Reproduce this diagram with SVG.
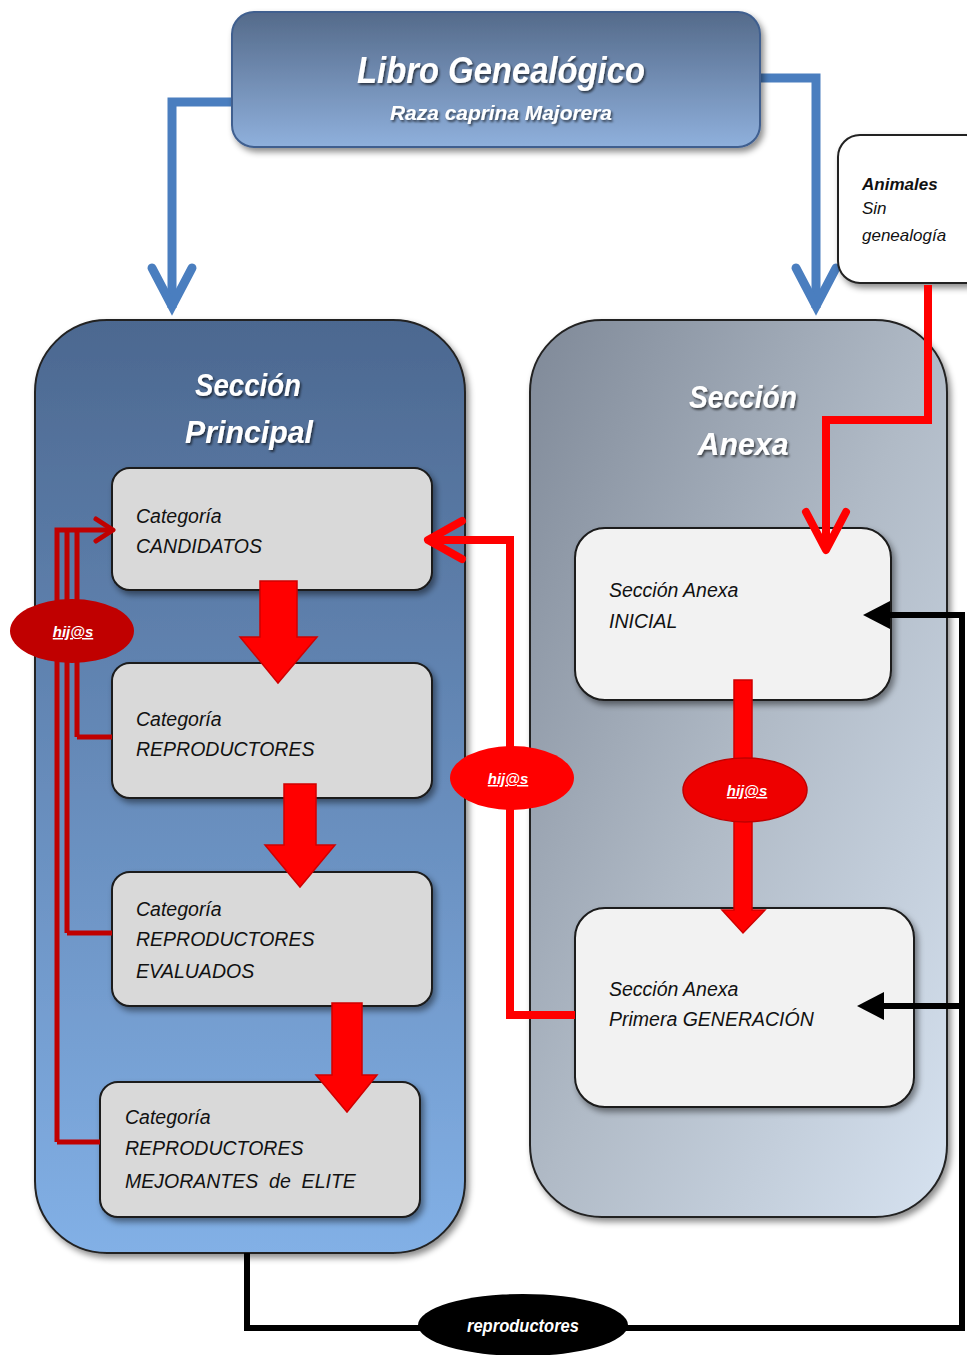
<svg xmlns="http://www.w3.org/2000/svg" width="967" height="1355" viewBox="0 0 967 1355">
<defs>
<linearGradient id="gHead" x1="0" y1="0" x2="0" y2="1">
<stop offset="0" stop-color="#546a8a"/><stop offset="1" stop-color="#8fb0dc"/>
</linearGradient>
<linearGradient id="gPrin" x1="0" y1="0" x2="0" y2="1">
<stop offset="0" stop-color="#4c6890"/><stop offset="1" stop-color="#82b0e6"/>
</linearGradient>
<linearGradient id="gAnex" x1="0" y1="0" x2="1" y2="1">
<stop offset="0" stop-color="#7f8998"/><stop offset="0.5" stop-color="#b0bac6"/><stop offset="1" stop-color="#d6e2f0"/>
</linearGradient>
<filter id="sh" x="-10%" y="-10%" width="125%" height="125%">
<feDropShadow dx="3" dy="4" stdDeviation="3" flood-color="#000" flood-opacity="0.45"/>
</filter>
<filter id="tsh" x="-10%" y="-20%" width="130%" height="150%">
<feDropShadow dx="1.5" dy="2" stdDeviation="1" flood-color="#000" flood-opacity="0.6"/>
</filter>
<style>
.cat{fill:#d9d9d9;stroke:#1a1a1a;stroke-width:2}
.anx{fill:#f2f2f2;stroke:#1a1a1a;stroke-width:2}
.t{font-family:"Liberation Sans",Arial,sans-serif;font-style:italic;fill:#111}
.ct{font-size:19.5px}
.wt{font-family:"Liberation Sans",Arial,sans-serif;font-style:italic;font-weight:bold;fill:#fff}
.blue{fill:none;stroke:#4a7ebf;stroke-width:9;stroke-linejoin:miter}
.red{fill:none;stroke:#ff0000;stroke-width:8}
.dred{fill:none;stroke:#c00000;stroke-width:5}
.blk{fill:none;stroke:#000;stroke-width:6}
.hij{font-family:"Liberation Sans",Arial,sans-serif;font-style:italic;font-weight:bold;font-size:15px;fill:#fff;text-decoration:underline}
.blockarrow{fill:#ff0000;stroke:#d00000;stroke-width:1.5}
</style>
</defs>
<rect width="967" height="1355" fill="#fff"/>

<g id="connectors-blue">
<path class="blue" d="M232,102 H172 V308"/>
<path class="blue" d="M152,268 L172,306 L192,268" stroke-linecap="round"/>
<path class="blue" d="M760,78 H816 V308"/>
<path class="blue" d="M796,268 L816,306 L836,268" stroke-linecap="round"/>
</g>

<g id="libro">
<rect x="232" y="12" width="528" height="135" rx="22" fill="url(#gHead)" stroke="#3f5f8f" stroke-width="2" filter="url(#sh)"/>
<text class="wt" x="501" y="83" text-anchor="middle" font-size="36" textLength="288" lengthAdjust="spacingAndGlyphs" filter="url(#tsh)">Libro Genealógico</text>
<text class="wt" x="501" y="120" text-anchor="middle" font-size="21" textLength="222" lengthAdjust="spacingAndGlyphs" filter="url(#tsh)">Raza caprina Majorera</text>
</g>

<g id="animales">
<rect x="838" y="135" width="150" height="148" rx="22" fill="#fff" stroke="#222" stroke-width="2" filter="url(#sh)"/>
<text class="t" x="862" y="190" font-size="17" font-weight="bold">Animales</text>
<text class="t" x="862" y="214" font-size="17">Sin</text>
<text class="t" x="862" y="241" font-size="17">genealogía</text>
</g>

<g id="seccion-principal">
<rect x="35" y="320" width="430" height="933" rx="72" fill="url(#gPrin)" stroke="#222" stroke-width="2" filter="url(#sh)"/>
<text class="wt" x="248" y="396" text-anchor="middle" font-size="31" textLength="106" lengthAdjust="spacingAndGlyphs" filter="url(#tsh)">Sección</text>
<text class="wt" x="249" y="443" text-anchor="middle" font-size="31" textLength="128" lengthAdjust="spacingAndGlyphs" filter="url(#tsh)">Principal</text>
</g>

<g id="seccion-anexa">
<rect x="530" y="320" width="417" height="897" rx="72" fill="url(#gAnex)" stroke="#222" stroke-width="2" filter="url(#sh)"/>
<text class="wt" x="743" y="408" text-anchor="middle" font-size="31" textLength="108" lengthAdjust="spacingAndGlyphs" filter="url(#tsh)">Sección</text>
<text class="wt" x="743" y="455" text-anchor="middle" font-size="31" textLength="91" lengthAdjust="spacingAndGlyphs" filter="url(#tsh)">Anexa</text>
</g>

<g id="cat-candidatos">
<rect class="cat" x="112" y="468" width="320" height="122" rx="18" filter="url(#sh)"/>
<text class="t ct" x="136" y="523">Categoría</text>
<text class="t ct" x="136" y="553">CANDIDATOS</text>
</g>
<g id="cat-reproductores">
<rect class="cat" x="112" y="663" width="320" height="135" rx="18" filter="url(#sh)"/>
<text class="t ct" x="136" y="726">Categoría</text>
<text class="t ct" x="136" y="756">REPRODUCTORES</text>
</g>
<g id="cat-evaluados">
<rect class="cat" x="112" y="872" width="320" height="134" rx="18" filter="url(#sh)"/>
<text class="t ct" x="136" y="916">Categoría</text>
<text class="t ct" x="136" y="946">REPRODUCTORES</text>
<text class="t ct" x="136" y="978">EVALUADOS</text>
</g>
<g id="cat-elite">
<rect class="cat" x="100" y="1082" width="320" height="135" rx="18" filter="url(#sh)"/>
<text class="t ct" x="125" y="1124">Categoría</text>
<text class="t ct" x="125" y="1155">REPRODUCTORES</text>
<text class="t ct" x="125" y="1188" xml:space="preserve" style="white-space:pre">MEJORANTES  de  ELITE</text>
</g>

<g id="anexa-inicial">
<rect class="anx" x="575" y="528" width="316" height="172" rx="30" filter="url(#sh)"/>
<text class="t ct" x="609" y="597">Sección Anexa</text>
<text class="t ct" x="609" y="628">INICIAL</text>
</g>
<g id="anexa-primera">
<rect class="anx" x="575" y="908" width="339" height="199" rx="30" filter="url(#sh)"/>
<text class="t ct" x="609" y="996">Sección Anexa</text>
<text class="t ct" x="609" y="1026">Primera GENERACIÓN</text>
</g>

<g id="connectors">
<path class="blockarrow" d="M260,581 H297 V637 H317 L278,683 L240,637 H260 Z"/>
<path class="blockarrow" d="M284,784 H316 V845 H335 L300,887 L265,845 H284 Z"/>
<path class="blockarrow" d="M332,1003 H362 V1075 H377 L347,1112 L316,1075 H332 Z"/>
<path class="blockarrow" d="M734,680 H752 V910 H765 L743,933 L722,910 H734 Z"/>

<path class="red" d="M928,285 V420 H826 V548"/>
<path class="red" d="M806,512 L826,550 L846,512" stroke-linecap="round" stroke-linejoin="round"/>

<path class="red" d="M575,1015 H510 V540 H430"/>
<path class="red" d="M462,521 L428,540 L462,559" stroke-linecap="round" stroke-linejoin="round"/>

<path class="dred" d="M57,1142 H100"/>
<path class="dred" d="M57,1142 V530 H110"/>
<path class="dred" d="M67,933 V530"/>
<path class="dred" d="M67,933 H112"/>
<path class="dred" d="M77,737 V530"/>
<path class="dred" d="M77,737 H112"/>
<path class="dred" d="M96,519 L113,530 L96,541" stroke-linecap="round" stroke-linejoin="round"/>

<path class="blk" d="M247,1253 V1328 H962 V615 H872"/>
<path class="blk" d="M962,1006 H866"/>
<path d="M863,615 L890,601 L890,629 Z" fill="#000"/>
<path d="M857,1006 L884,992 L884,1020 Z" fill="#000"/>
</g>

<g id="hijos-left">
<ellipse cx="72" cy="631" rx="62" ry="32" fill="#c00000"/>
<text class="hij" x="73" y="637" text-anchor="middle">hij@s</text>
</g>
<g id="hijos-center">
<ellipse cx="512" cy="778" rx="62" ry="32" fill="#ff0000"/>
<text class="hij" x="508" y="784" text-anchor="middle">hij@s</text>
</g>
<g id="hijos-anexa">
<ellipse cx="745" cy="790" rx="62" ry="32" fill="#ee0000" stroke="#c00000" stroke-width="1.5"/>
<text class="hij" x="747" y="796" text-anchor="middle">hij@s</text>
</g>
<g id="reproductores">
<ellipse cx="523" cy="1325" rx="105" ry="31" fill="#000"/>
<text class="wt" x="523" y="1332" text-anchor="middle" font-size="18" font-weight="normal" textLength="112" lengthAdjust="spacingAndGlyphs">reproductores</text>
</g>
</svg>
